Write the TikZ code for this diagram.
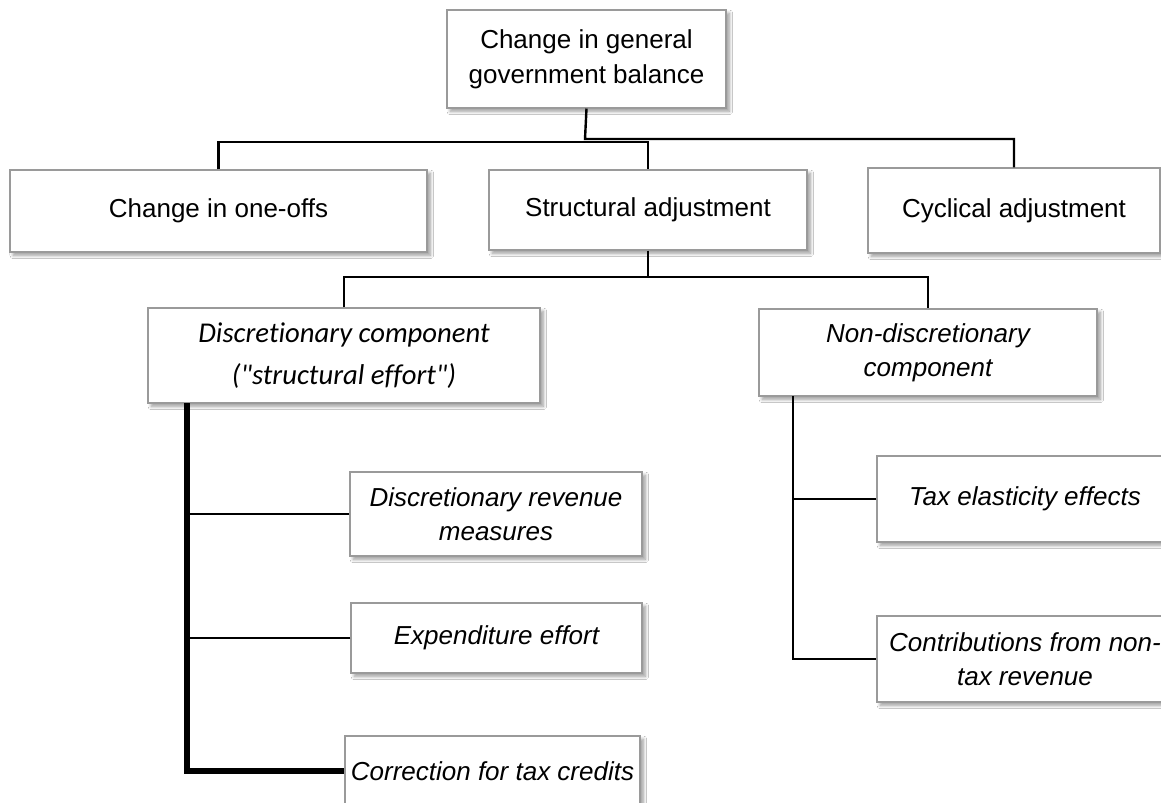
\documentclass[tikz,border=0pt]{standalone}
\usepackage{fontspec}
\setmainfont{Liberation Sans}
\newfontfamily\calib[Ligatures=NoCommon]{Carlito}
\usetikzlibrary{shadows.blur}
\definecolor{boxgray}{HTML}{9A9A9A}
\begin{document}
\begin{tikzpicture}[x=0.75pt,y=-0.75pt,
  bx/.style={draw=boxgray, line width=0.8pt, fill=white, inner sep=0pt, align=center,
    font=\fontsize{19.5}{26}\selectfont,
    blur shadow={shadow xshift=2.5pt, shadow yshift=-2.5pt, shadow blur radius=2.5pt, shadow blur steps=6, shadow opacity=40}},
  itx/.style={font=\fontsize{19.5}{25.5}\selectfont\itshape},
  calx/.style={font=\fontsize{21.5}{31}\selectfont\calib\itshape},
  conn/.style={line width=1.8pt},
  spine/.style={line width=3.8pt}
]
\useasboundingbox (0,0) rectangle (1161,803);
\clip (0,0) rectangle (1161,803);
\fill[white] (0,0) rectangle (1161,803);

\node[bx, minimum width=209.25pt, minimum height=73.5pt] (top) at (586.5,59) {Change in general\\government balance};
\node[bx, minimum width=312.75pt, minimum height=61.5pt] (oneoffs) at (218.5,211) {Change in one-offs};
\node[bx, minimum width=238.5pt, minimum height=60pt] (struct) at (648,210) {Structural adjustment};
\node[bx, minimum width=219pt, minimum height=63.75pt] (cyc) at (1014,210.5) {Cyclical adjustment};
\node[bx, calx, minimum width=294pt, minimum height=71.25pt] (disc) at (344,355.5) {Discretionary component\\("structural effort")};
\node[bx, itx, minimum width=253.5pt, minimum height=65.25pt] (nondisc) at (928,352.5) {Non-discretionary\\component};
\node[bx, itx, minimum width=219pt, minimum height=63pt] (drm) at (496,514) {Discretionary revenue\\measures};
\node[bx, itx, minimum width=218.25pt, minimum height=52.5pt] (exp) at (496.5,638) {Expenditure effort};
\node[bx, itx, minimum width=221.25pt, minimum height=52.5pt] (corr) at (492.5,771) {Correction for tax credits};
\node[bx, itx, minimum width=222pt, minimum height=64.5pt] (tax) at (1025,499) {Tax elasticity effects};
\node[bx, itx, minimum width=222pt, minimum height=64.5pt] (contr) at (1025,659) {Contributions from non-\\tax revenue};

\coordinate (j1) at (585,139);
\coordinate (j1b) at (648,142);
\coordinate (j2) at (648,277);
\coordinate (dtop) at (187,403);
\coordinate (ntop) at (793,396);

\draw[conn] (top.south) -- (j1) -| (cyc.north);
\draw[conn] (oneoffs.north) |- (j1b) -- (struct.north);
\draw[conn] (struct.south) -- (j2);
\draw[conn] (disc.north) |- (j2) -| (nondisc.north);

\draw[spine] (dtop) |- (corr.west);
\draw[conn] (drm.west) -- (drm.west -| dtop);
\draw[conn] (exp.west) -- (exp.west -| dtop);

\draw[conn] (ntop) |- (contr.west);
\draw[conn] (tax.west) -- (tax.west -| ntop);
\end{tikzpicture}
\end{document}
